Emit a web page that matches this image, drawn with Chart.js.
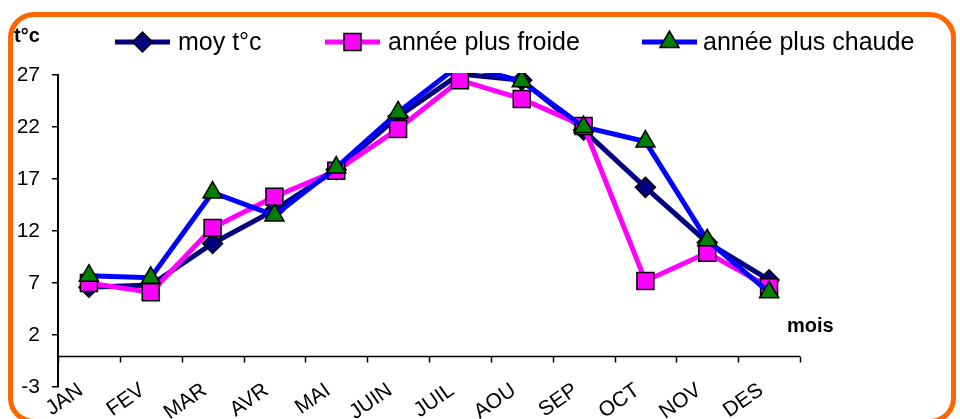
<!DOCTYPE html>
<html>
<head>
<meta charset="utf-8">
<script src="https://cdn.jsdelivr.net/npm/chart.js@4/dist/chart.umd.min.js"></script>
<style>
  html, body { margin: 0; padding: 0; background: #fff; }
  #wrap { position: relative; width: 960px; height: 419px; overflow: hidden; background: #fff; }
  #chart { position: absolute; left: 0; top: 0; }
  #frame {
    position: absolute; left: 8px; top: 12px; width: 948px; height: 412px;
    box-sizing: border-box; border: 5px solid #ff6600; border-radius: 26px;
    pointer-events: none;
  }
</style>
</head>
<body>
<div id="wrap">
  <canvas id="chart" width="960" height="419"></canvas>
  <div id="frame"></div>
</div>
<script>
  const months = ['JAN', 'FEV', 'MAR', 'AVR', 'MAI', 'JUIN', 'JUIL', 'AOU', 'SEP', 'OCT', 'NOV', 'DES'];
  const moyenne = [6.6, 6.8, 10.8, 14.0, 17.9, 23.0, 27.1, 26.5, 21.7, 16.2, 10.9, 7.3];
  const froide = [7.0, 6.1, 12.3, 15.3, 17.8, 21.8, 26.5, 24.7, 22.1, 7.2, 9.9, 6.6];
  const chaude = [7.7, 7.5, 15.7, 13.5, 18.1, 23.4, 28.0, 26.4, 22.0, 20.6, 11.1, 6.1];
  const yTicks = [-3, 2, 7, 12, 17, 22, 27];

  const FONT = '"Liberation Sans", Arial, sans-serif';

  const series = [
    { label: 'moy t°c', data: moyenne, line: '#000080', fill: '#000080', style: 'rectRot', radius: 10, order: 3 },
    { label: 'année plus froide', data: froide, line: '#ff00ff', fill: '#ff00ff', style: 'rect', radius: 12, order: 2 },
    { label: 'année plus chaude', data: chaude, line: '#0000ff', fill: '#008000', style: 'triangle', radius: 11, order: 1 }
  ];

  // legend drawn by hand: line segment with the marker in the middle
  const legendPos = [
    { x0: 115, x1: 170, tx: 178 },
    { x0: 325, x1: 380, tx: 388 },
    { x0: 642, x1: 697, tx: 703 }
  ];

  const extras = {
    id: 'extras',
    beforeDatasetsDraw(chart) {
      // category axis crossing at y = 0
      const { ctx, chartArea } = chart;
      const x = chart.scales.x, y = chart.scales.y;
      const y0 = Math.round(y.getPixelForValue(0)) + 0.5;
      ctx.save();
      ctx.strokeStyle = '#000';
      ctx.lineWidth = 1.5;
      ctx.beginPath();
      ctx.moveTo(chartArea.left, y0);
      ctx.lineTo(chartArea.right, y0);
      for (let i = 0; i <= months.length; i++) {
        const px = Math.round(x.getPixelForValue(i - 0.5)) + 0.5;
        ctx.moveTo(px, y0);
        ctx.lineTo(px, y0 + 6);
      }
      ctx.stroke();
      ctx.restore();
    },
    afterDraw(chart) {
      const { ctx } = chart;
      ctx.save();
      ctx.fillStyle = '#000';
      ctx.textBaseline = 'middle';
      ctx.font = 'bold 20px ' + FONT;
      ctx.textAlign = 'left';
      ctx.fillText('t°c', 14, 36);
      ctx.fillText('mois', 787, 326);

      ctx.font = '25px ' + FONT;
      series.forEach((s, i) => {
        const p = legendPos[i];
        const ly = 42;
        ctx.strokeStyle = s.line;
        ctx.lineWidth = 5;
        ctx.beginPath();
        ctx.moveTo(p.x0, ly);
        ctx.lineTo(p.x1, ly);
        ctx.stroke();
        ctx.fillStyle = s.fill;
        ctx.strokeStyle = '#000';
        ctx.lineWidth = 1.5;
        Chart.helpers.drawPoint(ctx, { pointStyle: s.style, radius: s.radius, rotation: 0, borderWidth: 1.5 },
          (p.x0 + p.x1) / 2, ly);
        ctx.fillStyle = '#000';
        ctx.fillText(s.label, p.tx, ly + 1);
      });
      ctx.restore();
    }
  };

  new Chart(document.getElementById('chart'), {
    type: 'line',
    data: {
      labels: months,
      datasets: series.map(s => ({
        label: s.label,
        data: s.data,
        borderColor: s.line,
        borderWidth: 5,
        backgroundColor: s.fill,
        pointBackgroundColor: s.fill,
        pointBorderColor: '#000',
        pointBorderWidth: 1.5,
        pointStyle: s.style,
        pointRadius: s.radius,
        pointHoverRadius: s.radius,
        tension: 0,
        clip: 2,
        order: s.order
      }))
    },
    options: {
      responsive: false,
      animation: false,
      events: [],
      layout: { padding: { left: 18, right: 160, top: 75, bottom: 32 } },
      plugins: { legend: { display: false }, tooltip: { enabled: false } },
      scales: {
        x: {
          type: 'category',
          position: { y: -3 },
          offset: true,
          grid: { display: false, drawTicks: false },
          border: { display: false },
          ticks: {
            color: '#000',
            font: { family: FONT, size: 21 },
            minRotation: 35,
            maxRotation: 35,
            autoSkip: false,
            padding: -9,
            labelOffset: -8
          },
          afterFit(scale) {
            scale.height = 32;
            scale.paddingLeft = 0;
            scale.paddingRight = 0;
          }
        },
        y: {
          min: -3,
          max: 27,
          grid: { drawOnChartArea: false, drawTicks: true, tickLength: 6, color: '#000', lineWidth: 1.5 },
          border: { display: true, color: '#000', width: 2 },
          ticks: { color: '#000', font: { family: FONT, size: 21 }, padding: 12 },
          afterBuildTicks(scale) {
            scale.ticks = yTicks.map(v => ({ value: v }));
          },
          afterFit(scale) {
            scale.width = 40;
            scale.paddingTop = 0;
            scale.paddingBottom = 0;
          }
        }
      }
    },
    plugins: [extras]
  });
</script>
</body>
</html>
